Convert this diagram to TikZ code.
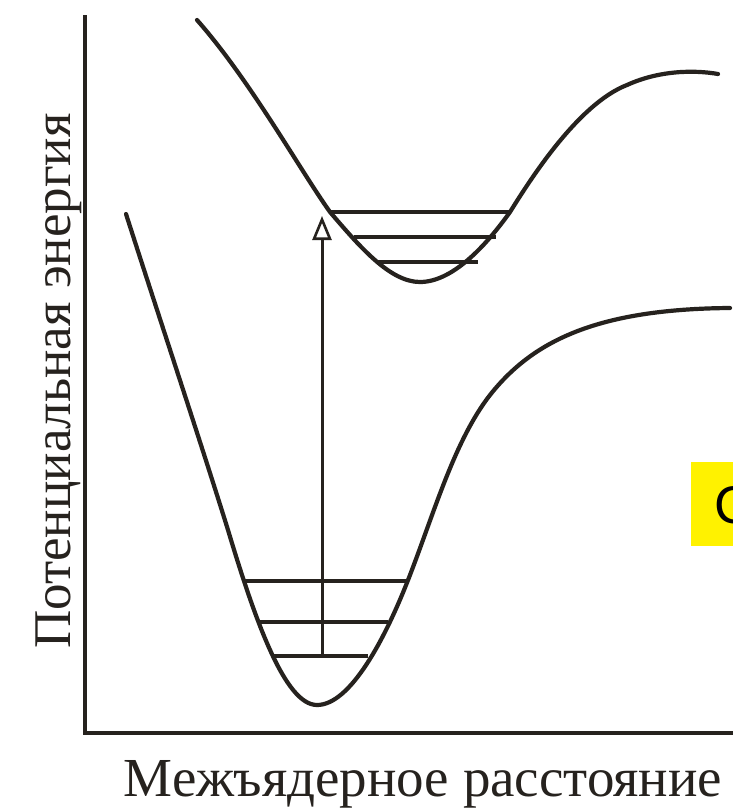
\documentclass[tikz,border=0pt]{standalone}
\usepackage{fontspec}
\setmainfont{Liberation Serif}
\newfontfamily\boxfont{Liberation Sans}
\usetikzlibrary{arrows.meta}
\definecolor{ink}{RGB}{38,34,30}
\begin{document}
\begin{tikzpicture}[x=1pt,y=-1pt,
  curve/.style={draw=ink,line width=4.2pt,line cap=round,line join=round},
  level/.style={draw=ink,line width=3.2pt},
  axisline/.style={draw=ink,line width=3.4pt},
  transition/.style={draw=ink,line width=3pt,-{Triangle[open,length=24pt,width=19pt,line width=2.6pt]}},
  lab/.style={inner sep=0pt,font=\fontsize{55}{60}\selectfont,text=ink}]
\useasboundingbox (0,0) rectangle (733,809);
\fill[white] (0,0) rectangle (733,809);
% axes
\coordinate (top) at (85,15);
\coordinate (origin) at (85,733);
\coordinate (right) at (740,733);
\draw[axisline] (top) -- (origin) -- (right);
% ground state curve
\draw[curve] (126,214) .. controls (160,320) and (200,440) .. (228,530)
  .. controls (255,620) and (285,705) .. (317,705)
  .. controls (350,705) and (385,640) .. (410,575)
  .. controls (435,510) and (455,440) .. (490,395)
  .. controls (532,342) and (595,309) .. (730,308);
% excited state curve
\draw[curve] (197,20) .. controls (250,80) and (300,170) .. (330,212)
  .. controls (360,247) and (390,282) .. (420,282)
  .. controls (455,282) and (490,240) .. (510,212)
  .. controls (530,180) and (578,104) .. (627,85)
  .. controls (660,70) and (695,70) .. (718,74);
% vibrational levels, ground
\draw[level] (243,581) -- (408,581);
\draw[level] (258,622) -- (388,622);
\draw[level] (273,656) -- (368,656);
% vibrational levels, excited
\draw[level] (330,212) -- (511,212);
\draw[level] (354,237) -- (496,237);
\draw[level] (377,262) -- (478,262);
% transition arrow
\coordinate (from) at (322,656);
\coordinate (to) at (322,216);
\draw[transition] (from) -- (to);
% labels
\node[lab,rotate=90,anchor=base,font=\fontsize{53}{58}\selectfont] (ylab) at (70,381) {Потенциальная энергия};
\node[lab,anchor=base] (xlab) at (423,796) {Межъядерное расстояние};
% yellow overlay box
\fill[yellow] (691,462) rectangle (760,546);
\node[inner sep=0pt,anchor=base west,font=\boxfont\fontsize{53}{58}\selectfont] (boxtext) at (714,523) {С};
\end{tikzpicture}
\end{document}
